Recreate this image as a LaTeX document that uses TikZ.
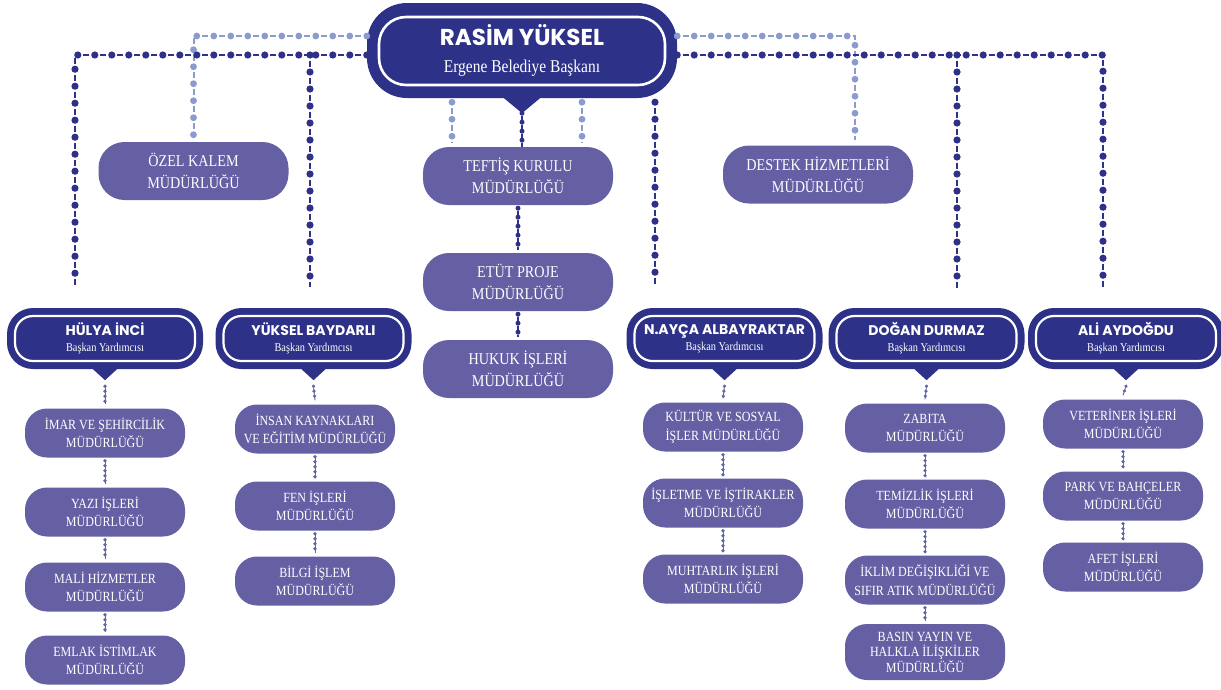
\documentclass[tikz,border=0pt]{standalone}
\usepackage{fontspec}
\usetikzlibrary{decorations.markings}
\newfontfamily\namefont{Poppins}
\newfontfamily\boxfont{Liberation Serif}[FakeStretch=0.86]
\definecolor{navy}{RGB}{45,49,135}
\definecolor{lilac}{RGB}{101,96,164}
\definecolor{paleblue}{RGB}{139,154,207}
\tikzset{
  mayorbox/.style={fill=navy, rounded corners=40pt, minimum width=310pt, minimum height=95pt,
    text=white, align=center, inner sep=0pt, font=\fontsize{18}{27}\selectfont,
    path picture={\draw[white, line width=2.6pt, rounded corners=27pt]
      ([xshift=12pt,yshift=-14pt]path picture bounding box.north west) rectangle
      ([xshift=-12pt,yshift=13pt]path picture bounding box.south east);}},
  deputybox/.style={fill=navy, rounded corners=26pt, minimum width=196pt, minimum height=61pt,
    text=white, align=center, inner sep=0pt, font=\fontsize{12}{16}\selectfont,
    path picture={\draw[white, line width=2.2pt, rounded corners=18pt]
      ([xshift=8pt,yshift=-8pt]path picture bounding box.north west) rectangle
      ([xshift=-8pt,yshift=8pt]path picture bounding box.south east);}},
  unitbox/.style={fill=lilac, rounded corners=22pt, minimum width=160pt, minimum height=49pt,
    text=white, align=center, inner sep=0pt, font=\boxfont\fontsize{14}{18.5}\selectfont},
  officebox/.style={unitbox, minimum width=190pt, minimum height=58pt, rounded corners=26pt,
    font=\boxfont\fontsize{16.5}{22}\selectfont},
  linkdark/.style={draw=navy, line width=2.2pt, dash pattern=on 6pt off 11pt, dash phase=11.5pt,
    postaction={decorate, decoration={markings,
      mark=between positions 0 and 1 step 17pt with {\fill[navy] (0,0) circle (3.6pt);}}}},
  linklight/.style={draw=paleblue, line width=2pt, dash pattern=on 6pt off 11pt, dash phase=11.5pt,
    postaction={decorate, decoration={markings,
      mark=between positions 0 and 1 step 17pt with {\fill[paleblue] (0,0) circle (3.4pt);}}}},
  linkmid/.style={draw=navy, line width=1.6pt, dash pattern=on 4pt off 5pt, dash phase=6.5pt,
    postaction={decorate, decoration={markings,
      mark=between positions 0 and 1 step 9pt with {\fill[navy] (0,0) circle (2.5pt);}}}},
  linkfine/.style={draw=navy!75, line width=0.9pt,
    postaction={decorate, decoration={markings,
      mark=between positions 0 and 1 step 5pt with {\fill[navy!75] (0,0) circle (1.8pt);}}}},
}
\newcommand{\deputy}[1]{{\namefont\bfseries\fontsize{14}{16}\selectfont #1}\\{\boxfont\fontsize{12}{14}\selectfont Başkan Yardımcısı}}
\begin{document}
\begin{tikzpicture}[x=1pt,y=-1pt]
  \useasboundingbox (0,0) rectangle (1221,689);
  \draw
    (522,50.5) node[mayorbox] (mayor){{\namefont\bfseries\fontsize{23}{26}\selectfont RASİM YÜKSEL}\\{\boxfont\fontsize{18}{20}\selectfont Ergene Belediye Başkanı}}
    (193.5,171) node[officebox] (ozel){ÖZEL KALEM\\MÜDÜRLÜĞÜ}
    (818,174.5) node[officebox] (destek){DESTEK HİZMETLERİ\\MÜDÜRLÜĞÜ}
    (518,176) node[officebox] (teftis){TEFTİŞ KURULU\\MÜDÜRLÜĞÜ}
    (518,282) node[officebox] (etut){ETÜT PROJE\\MÜDÜRLÜĞÜ}
    (518,369) node[officebox] (hukuk){HUKUK İŞLERİ\\MÜDÜRLÜĞÜ};
  \draw
    (105,338.5) node[deputybox] (hulya){\deputy{HÜLYA İNCİ}}
    (313.5,338.5) node[deputybox] (yuksel){\deputy{YÜKSEL BAYDARLI}}
    (724.5,338.5) node[deputybox] (nayca){\deputy{N.AYÇA ALBAYRAKTAR}}
    (926.5,338.5) node[deputybox] (dogan){\deputy{DOĞAN DURMAZ}}
    (1126,338.5) node[deputybox] (ali){\deputy{ALİ AYDOĞDU}};
  \draw
    (105,433) node[unitbox] (imar){İMAR VE ŞEHİRCİLİK\\MÜDÜRLÜĞÜ}
    (105,512) node[unitbox] (yazi){YAZI İŞLERİ\\MÜDÜRLÜĞÜ}
    (105,587) node[unitbox] (mali){MALİ HİZMETLER\\MÜDÜRLÜĞÜ}
    (105,660) node[unitbox] (emlak){EMLAK İSTİMLAK\\MÜDÜRLÜĞÜ}
    (315,429) node[unitbox] (insan){İNSAN KAYNAKLARI\\VE EĞİTİM MÜDÜRLÜĞÜ}
    (315,506) node[unitbox] (fen){FEN İŞLERİ\\MÜDÜRLÜĞÜ}
    (315,581) node[unitbox] (bilgi){BİLGİ İŞLEM\\MÜDÜRLÜĞÜ}
    (723,427) node[unitbox] (kultur){KÜLTÜR VE SOSYAL\\İŞLER MÜDÜRLÜĞÜ}
    (723,503) node[unitbox] (isletme){İŞLETME VE İŞTİRAKLER\\MÜDÜRLÜĞÜ}
    (723,579) node[unitbox] (muhtar){MUHTARLIK İŞLERİ\\MÜDÜRLÜĞÜ}
    (925,428) node[unitbox] (zabita){ZABITA\\MÜDÜRLÜĞÜ}
    (925,504) node[unitbox] (temizlik){TEMİZLİK İŞLERİ\\MÜDÜRLÜĞÜ}
    (925,580) node[unitbox] (iklim){İKLİM DEĞİŞİKLİĞİ VE\\SIFIR ATIK MÜDÜRLÜĞÜ}
    (925,652) node[unitbox, minimum height=56pt, font=\boxfont\fontsize{14}{15.5}\selectfont] (basin){BASIN YAYIN VE\\HALKLA İLİŞKİLER\\MÜDÜRLÜĞÜ}
    (1123,424) node[unitbox] (veteriner){VETERİNER İŞLERİ\\MÜDÜRLÜĞÜ}
    (1123,496) node[unitbox] (park){PARK VE BAHÇELER\\MÜDÜRLÜĞÜ}
    (1123,567) node[unitbox] (afet){AFET İŞLERİ\\MÜDÜRLÜĞÜ};
  % pointers under the heads
  \coordinate (mayor-tip) at ([yshift=-15pt]mayor.south);
  \fill[navy] ([xshift=-18pt]mayor.south) -- ([xshift=18pt]mayor.south) -- (mayor-tip) -- cycle;
  \foreach \h in {hulya,yuksel,nayca,dogan,ali}
    \fill[navy] ([xshift=-12pt]\h.south) -- ([xshift=12pt]\h.south) -- ([yshift=-11pt]\h.south) -- cycle;
  % end points of the long lines
  \coordinate (busL) at ([yshift=-4.5pt]mayor.west);
  \coordinate (busR) at ([yshift=-4.5pt]mayor.east);
  \coordinate (paleL) at ([yshift=14.5pt]mayor.west);
  \coordinate (paleR) at ([yshift=14.5pt]mayor.east);
  \coordinate (mayor-base) at ([yshift=-4pt]mayor.south);
  \coordinate (hulya-top) at ([xshift=-30pt,yshift=21pt]hulya.north);
  \coordinate (yuksel-top) at ([xshift=-3.5pt,yshift=21pt]yuksel.north);
  \coordinate (nayca-top) at ([xshift=-69.5pt,yshift=21pt]nayca.north);
  \coordinate (dogan-top) at ([xshift=30.5pt,yshift=18pt]dogan.north);
  \coordinate (ali-top) at ([xshift=-23pt,yshift=18pt]ali.north);
  \coordinate (ozel-top) at ([yshift=5pt]ozel.north);
  \coordinate (destek-top) at ([xshift=37pt,yshift=5pt]destek.north);
  \coordinate (teftisL) at ([xshift=-66pt,yshift=5pt]teftis.north);
  \coordinate (teftisR) at ([xshift=64pt,yshift=5pt]teftis.north);
  \draw[linklight] (paleL) -| (ozel-top);
  \draw[linklight] (paleR) -| (destek-top);
  \draw[linklight] (teftisL |- mayor-base) -- (teftisL);
  \draw[linklight] (teftisR |- mayor-base) -- (teftisR);
  \draw[linkdark] (busL) -| (hulya-top);
  \draw[linkdark] (yuksel-top |- busL) -- (yuksel-top);
  \draw[linkdark] (busR) -| (ali-top);
  \draw[linkdark] (dogan-top |- busR) -- (dogan-top);
  \draw[linkdark] (nayca-top |- mayor-base) -- (nayca-top);
  \draw[linkmid] (mayor-tip) -- (mayor-tip |- teftis.north);
  \draw[linkmid] ([yshift=-3pt]teftis.south) to ([yshift=3pt]etut.north);
  \draw[linkmid] ([yshift=-3pt]etut.south) to ([yshift=3pt]hukuk.north);
  % columns under the deputies
  \draw[linkfine] ([yshift=-17pt]hulya.south) to ([yshift=4pt]imar.north);
  \draw[linkfine] ([yshift=-3pt]imar.south) to ([yshift=3pt]yazi.north);
  \draw[linkfine] ([yshift=-3pt]yazi.south) to ([yshift=3pt]mali.north);
  \draw[linkfine] ([yshift=-3pt]mali.south) to ([yshift=3pt]emlak.north);
  \draw[linkfine] ([yshift=-17pt]yuksel.south) to ([yshift=4pt]insan.north);
  \draw[linkfine] ([yshift=-3pt]insan.south) to ([yshift=3pt]fen.north);
  \draw[linkfine] ([yshift=-3pt]fen.south) to ([yshift=3pt]bilgi.north);
  \draw[linkfine] ([yshift=-17pt]nayca.south) to ([yshift=4pt]kultur.north);
  \draw[linkfine] ([yshift=-3pt]kultur.south) to ([yshift=3pt]isletme.north);
  \draw[linkfine] ([yshift=-3pt]isletme.south) to ([yshift=3pt]muhtar.north);
  \draw[linkfine] ([yshift=-17pt]dogan.south) to ([yshift=4pt]zabita.north);
  \draw[linkfine] ([yshift=-3pt]zabita.south) to ([yshift=3pt]temizlik.north);
  \draw[linkfine] ([yshift=-3pt]temizlik.south) to ([yshift=3pt]iklim.north);
  \draw[linkfine] ([yshift=-3pt]iklim.south) to ([yshift=3pt]basin.north);
  \draw[linkfine] ([yshift=-17pt]ali.south) to ([yshift=4pt]veteriner.north);
  \draw[linkfine] ([yshift=-3pt]veteriner.south) to ([yshift=3pt]park.north);
  \draw[linkfine] ([yshift=-3pt]park.south) to ([yshift=3pt]afet.north);
\end{tikzpicture}
\end{document}
